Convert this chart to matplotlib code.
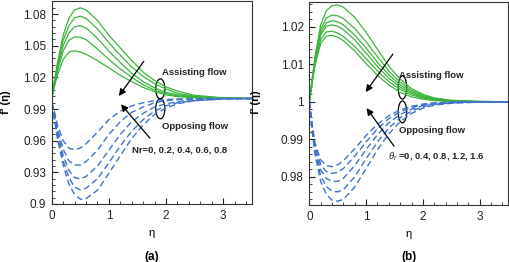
import numpy as np
import matplotlib
matplotlib.use('Agg')
import matplotlib.pyplot as plt
from matplotlib.patches import Ellipse
from matplotlib.ticker import MultipleLocator, AutoMinorLocator, FuncFormatter

plt.rcParams['font.family'] = ['Liberation Sans', 'DejaVu Sans']
plt.rcParams['mathtext.fontset'] = 'custom'
plt.rcParams['mathtext.rm'] = 'Liberation Sans'
plt.rcParams['mathtext.it'] = 'Liberation Sans:italic'

# common eta grid
eta = [0, 0.05, 0.1, 0.2, 0.3, 0.4, 0.5, 0.6, 0.8, 1.0, 1.2, 1.4, 1.6, 1.8, 2.0, 2.2, 2.5, 3.0, 3.5]

# panel (a): Nr = 0, 0.2, 0.4, 0.6, 0.8
a_assist = [
    [1.000, 1.018, 1.034, 1.060, 1.076, 1.084, 1.086, 1.084, 1.074, 1.060, 1.048, 1.036, 1.025, 1.017, 1.011, 1.007, 1.003, 1.0007, 1.0],
    [1.000, 1.016, 1.031, 1.055, 1.069, 1.0765, 1.078, 1.076, 1.066, 1.053, 1.041, 1.030, 1.021, 1.014, 1.009, 1.005, 1.002, 1.0005, 1.0],
    [1.000, 1.015, 1.028, 1.050, 1.062, 1.068, 1.069, 1.067, 1.057, 1.045, 1.034, 1.024, 1.016, 1.010, 1.006, 1.0035, 1.0015, 1.0003, 1.0],
    [1.000, 1.014, 1.026, 1.045, 1.055, 1.0585, 1.058, 1.056, 1.047, 1.037, 1.028, 1.020, 1.013, 1.008, 1.0045, 1.0025, 1.001, 1.0002, 1.0],
    [1.000, 1.012, 1.022, 1.037, 1.044, 1.0453, 1.044, 1.042, 1.036, 1.029, 1.022, 1.016, 1.0105, 1.0065, 1.0035, 1.0018, 1.0007, 1.0001, 1.0],
]
a_oppose = [
    [0.997, 0.987, 0.975, 0.960, 0.953, 0.9515, 0.953, 0.957, 0.968, 0.980, 0.988, 0.993, 0.996, 0.998, 0.999, 0.9995, 0.9998, 1.0, 1.0],
    [0.996, 0.985, 0.971, 0.952, 0.941, 0.937, 0.937, 0.940, 0.951, 0.966, 0.978, 0.987, 0.992, 0.996, 0.998, 0.999, 0.9996, 1.0, 1.0],
    [0.996, 0.983, 0.968, 0.946, 0.932, 0.925, 0.9238, 0.926, 0.936, 0.951, 0.966, 0.978, 0.986, 0.992, 0.995, 0.997, 0.999, 0.9998, 1.0],
    [0.995, 0.981, 0.965, 0.941, 0.925, 0.916, 0.9133, 0.915, 0.924, 0.939, 0.955, 0.969, 0.980, 0.988, 0.993, 0.996, 0.998, 0.9996, 1.0],
    [0.995, 0.979, 0.962, 0.937, 0.919, 0.909, 0.9045, 0.905, 0.913, 0.929, 0.946, 0.962, 0.975, 0.985, 0.991, 0.995, 0.998, 0.9995, 1.0],
]

# panel (b): theta_r = 0, 0.4, 0.8, 1.2, 1.6
b_assist = [
    [1.0, 1.006, 1.012, 1.0205, 1.0243, 1.0256, 1.0258, 1.0252, 1.0225, 1.0185, 1.014, 1.0095, 1.006, 1.0035, 1.002, 1.001, 1.0004, 1.0001, 1.0],
    [1.0, 1.0058, 1.0115, 1.0192, 1.0223, 1.0231, 1.0229, 1.0222, 1.0195, 1.016, 1.012, 1.0082, 1.0052, 1.003, 1.0017, 1.0009, 1.0003, 1.0001, 1.0],
    [1.0, 1.0056, 1.011, 1.0184, 1.021, 1.0216, 1.0213, 1.0205, 1.0178, 1.0143, 1.0105, 1.0072, 1.0045, 1.0026, 1.0014, 1.0007, 1.0002, 1.0, 1.0],
    [1.0, 1.0054, 1.0106, 1.0178, 1.0201, 1.0205, 1.0201, 1.0192, 1.0165, 1.0130, 1.0094, 1.0063, 1.0039, 1.0022, 1.0012, 1.0006, 1.0002, 1.0, 1.0],
    [1.0, 1.0052, 1.0101, 1.0166, 1.0186, 1.0188, 1.0183, 1.0174, 1.0148, 1.0115, 1.0082, 1.0054, 1.0033, 1.0018, 1.001, 1.0005, 1.0001, 1.0, 1.0],
    [1.0, 1.005, 1.0096, 1.0156, 1.0175, 1.0177, 1.0172, 1.0163, 1.0135, 1.0102, 1.007, 1.0045, 1.0025, 1.0013, 1.0007, 1.0003, 1.0001, 1.0, 1.0],
]
b_oppose = [
    [1.0, 0.994, 0.989, 0.9845, 0.983, 0.9827, 0.9832, 0.9843, 0.9875, 0.991, 0.994, 0.9963, 0.9978, 0.9988, 0.9994, 0.9997, 0.9999, 1.0, 1.0],
    [1.0, 0.9935, 0.9882, 0.9833, 0.9814, 0.9809, 0.9812, 0.9822, 0.9855, 0.9893, 0.9928, 0.9955, 0.9973, 0.9985, 0.9992, 0.9996, 0.9999, 1.0, 1.0],
    [1.0, 0.993, 0.9875, 0.9818, 0.9796, 0.9788, 0.9788, 0.9796, 0.9830, 0.9873, 0.9912, 0.9944, 0.9966, 0.998, 0.999, 0.9995, 0.9998, 1.0, 1.0],
    [1.0, 0.9925, 0.9867, 0.9803, 0.9774, 0.9762, 0.976, 0.9766, 0.9800, 0.9848, 0.9893, 0.993, 0.9957, 0.9975, 0.9987, 0.9993, 0.9997, 1.0, 1.0],
    [1.0, 0.992, 0.986, 0.9788, 0.9753, 0.9738, 0.9735, 0.9740, 0.9773, 0.9822, 0.9872, 0.9915, 0.9947, 0.9969, 0.9983, 0.9991, 0.9996, 0.9999, 1.0],
]

green = '#3cb43c'
blue = '#3f72cc'

fig = plt.figure(figsize=(5.09, 2.62), dpi=100)
ax1 = fig.add_axes([0.1016, 0.2214, 0.393, 0.775])
ax2 = fig.add_axes([0.6077, 0.2176, 0.3904, 0.775])


def style(ax, ylim, ymajor):
    ax.set_xlim(0, 3.5)
    ax.set_ylim(*ylim)
    ax.xaxis.set_major_locator(MultipleLocator(1))
    ax.xaxis.set_minor_locator(AutoMinorLocator(5))
    ax.yaxis.set_major_locator(MultipleLocator(ymajor))
    ax.yaxis.set_minor_locator(AutoMinorLocator(5))
    ax.yaxis.set_major_formatter(FuncFormatter(lambda v, p: '%g' % round(v, 4)))
    ax.tick_params(which='both', direction='in', labelsize=8.5, top=False, right=False, colors='#222222')
    ax.tick_params(which='major', length=4, width=0.8, pad=4)
    ax.tick_params(which='minor', length=2, width=0.6)
    for s in ax.spines.values():
        s.set_linewidth(0.8)
        s.set_color('#333333')
    ax.set_xlabel('η', fontsize=8, labelpad=5)


for ax, assist, oppose in [(ax1, a_assist, a_oppose), (ax2, b_assist, b_oppose)]:
    for ys in assist:
        ax.plot(eta, ys, color=green, lw=0.9)
    for ys in oppose:
        ax.plot(eta, ys, color=blue, lw=1.0, ls=(0, (4.5, 2.5)))

style(ax1, (0.9, 1.0925), 0.03)
style(ax2, (0.9725, 1.0266), 0.01)

# y labels placed in figure coordinates
fig.text(0.012, 0.61, "f' (η)", rotation=90, ha='center', va='center', fontsize=8, fontweight='bold')
fig.text(0.503, 0.61, "f' (η)", rotation=90, ha='center', va='center', fontsize=8, fontweight='bold')

tkw = dict(fontsize=6.8, fontweight='bold', color='#222222')
akw = dict(arrowstyle='-|>', color='black', lw=0.9, mutation_scale=10)

# panel (a) annotations
ax1.annotate('', xy=(1.147, 1.0003), xytext=(1.64, 1.0374), arrowprops=akw)
ax1.annotate('', xy=(1.18, 0.9965), xytext=(1.75, 0.9604), arrowprops=akw)
ax1.add_patch(Ellipse((1.9, 1.0091), 0.16, 0.019, fill=False, ec='black', lw=0.9))
ax1.add_patch(Ellipse((1.9, 0.9903), 0.16, 0.019, fill=False, ec='black', lw=0.9))
ax1.text(1.93, 1.0248, 'Assisting flow', va='center', **tkw)
ax1.text(1.93, 0.9735, 'Opposing flow', va='center', **tkw)
ax1.text(1.40, 0.951, 'Nr=0, 0.2, 0.4, 0.6, 0.8', va='center', **tkw)

# panel (b) annotations
ax2.annotate('', xy=(0.965, 1.002), xytext=(1.5, 1.0133), arrowprops=akw)
ax2.annotate('', xy=(0.98, 0.9989), xytext=(1.52, 0.9876), arrowprops=akw)
ax2.add_patch(Ellipse((1.64, 1.0038), 0.15, 0.0062, fill=False, ec='black', lw=0.9))
ax2.add_patch(Ellipse((1.64, 0.9973), 0.15, 0.0058, fill=False, ec='black', lw=0.9))
ax2.text(1.58, 1.0071, 'Assisting flow', va='center', **tkw)
ax2.text(1.58, 0.9923, 'Opposing flow', va='center', **tkw)
ax2.text(1.39, 0.9855, r'$\theta_r$ =0, 0.4, 0.8, 1.2, 1.6', va='center', **tkw)

fig.text(0.298, 0.019, '(a)', ha='center', va='center', fontsize=8.5, fontweight='bold')
fig.text(0.803, 0.019, '(b)', ha='center', va='center', fontsize=8.5, fontweight='bold')

fig.savefig('out.png', dpi=100)
